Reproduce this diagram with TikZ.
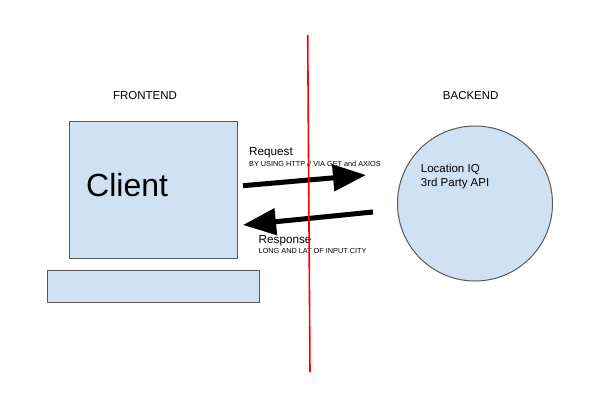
\documentclass[tikz,border=0pt]{standalone}
\usepackage{fontspec}
\setmainfont{Liberation Sans}
\usetikzlibrary{arrows.meta}
\definecolor{boxfill}{HTML}{CFE2F3}
\definecolor{boxline}{HTML}{595959}
\tikzset{
  shapebox/.style={draw=boxline, fill=boxfill, line width=1pt, inner sep=0pt},
  txt/.style={inner sep=0pt, text=black},
  bigarrow/.style={line width=5pt, -{Triangle[length=33pt,width=26pt]}},
}
\begin{document}
\begin{tikzpicture}[x=1pt,y=-1pt]
\useasboundingbox (0,0) rectangle (604,408);
\fill[white] (0,0) rectangle (604,408);
% frontend
\node[txt, font=\fontsize{11.5}{13}\selectfont] (fe) at (145,95.7) {FRONTEND};
\node[shapebox, minimum width=168pt, minimum height=137.3pt] (client) at (153.3,190.3) {};
\node[txt, anchor=base west, font=\fontsize{32}{36}\selectfont] (clienttxt) at (86,196) {Client};
\node[shapebox, minimum width=212pt, minimum height=31.3pt] (kbd) at (153.3,286.6) {};
% backend
\node[txt, font=\fontsize{11.5}{13}\selectfont] (be) at (470.7,95.7) {BACKEND};
\node[shapebox, circle, minimum size=155pt] (api) at (475,203.5) {};
\node[txt, anchor=base west, align=left, font=\fontsize{11.5}{14.3}\selectfont] (apitxt) at (420.7,186.7) {Location IQ\\3rd Party API};
% labels
\node[txt, anchor=base west, font=\fontsize{11.7}{13}\selectfont] (req) at (249,155.7) {Request};
\node[txt, anchor=base west, font=\fontsize{7.3}{8}\selectfont] (reqd) at (249,166.7) {BY USING HTTP // VIA GET and AXIOS};
\node[txt, anchor=base west, font=\fontsize{11.7}{13}\selectfont] (resp) at (258.5,243) {Response};
\node[txt, anchor=base west, font=\fontsize{7.3}{8}\selectfont] (respd) at (258.5,253) {LONG AND LAT OF INPUT CITY};
% arrows
\coordinate (reqs) at (243,185.7);
\coordinate (reqe) at (366,175);
\coordinate (resps) at (373,212);
\coordinate (respe) at (243,225);
\draw[bigarrow] (reqs) -- (reqe);
\draw[bigarrow] (resps) -- (respe);
% divider
\coordinate (dtop) at (307.7,35);
\coordinate (dbot) at (310,372);
\draw[red, line width=1.6pt] (dtop) -- (dbot);
\end{tikzpicture}
\end{document}
